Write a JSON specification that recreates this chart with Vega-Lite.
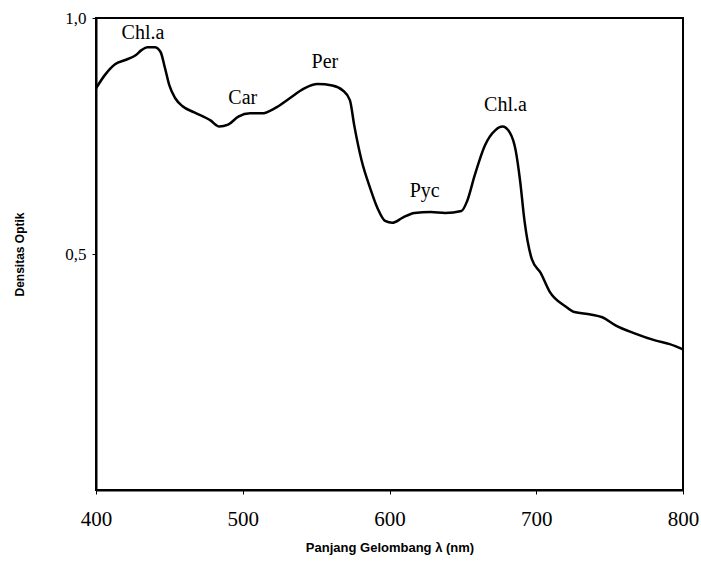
{
  "$schema": "https://vega.github.io/schema/vega-lite/v6.json",
  "width": 587,
  "height": 472,
  "autosize": {"type": "none"},
  "padding": {"left": 96, "top": 18, "right": 18, "bottom": 73},
  "background": "white",
  "config": {
    "view": {"stroke": "black", "strokeWidth": 2},
    "axis": {"grid": false, "domainColor": "black", "domainWidth": 2, "tickColor": "black", "labelColor": "black", "titleColor": "black"}
  },
  "datasets": {
    "curve": [
      {"wl": 400, "od": 0.851}, {"wl": 406, "od": 0.879}, {"wl": 413, "od": 0.902}, {"wl": 420, "od": 0.911},
      {"wl": 427, "od": 0.921}, {"wl": 431, "od": 0.932}, {"wl": 435, "od": 0.938}, {"wl": 440, "od": 0.938},
      {"wl": 444, "od": 0.928}, {"wl": 447, "od": 0.894}, {"wl": 450, "od": 0.857}, {"wl": 454, "od": 0.830},
      {"wl": 459, "od": 0.813}, {"wl": 467, "od": 0.800}, {"wl": 478, "od": 0.783}, {"wl": 484, "od": 0.770},
      {"wl": 490, "od": 0.774}, {"wl": 497, "od": 0.791}, {"wl": 505, "od": 0.798}, {"wl": 513, "od": 0.798},
      {"wl": 522, "od": 0.809}, {"wl": 532, "od": 0.830}, {"wl": 542, "od": 0.851}, {"wl": 551, "od": 0.860},
      {"wl": 561, "od": 0.857}, {"wl": 568, "od": 0.847}, {"wl": 573, "od": 0.826}, {"wl": 576, "od": 0.772},
      {"wl": 581, "od": 0.698}, {"wl": 587, "od": 0.638}, {"wl": 592, "od": 0.596}, {"wl": 597, "od": 0.570},
      {"wl": 602, "od": 0.566}, {"wl": 609, "od": 0.577}, {"wl": 617, "od": 0.587}, {"wl": 628, "od": 0.589},
      {"wl": 638, "od": 0.587}, {"wl": 649, "od": 0.591}, {"wl": 653, "od": 0.613}, {"wl": 658, "od": 0.666},
      {"wl": 665, "od": 0.730}, {"wl": 672, "od": 0.762}, {"wl": 677, "od": 0.770}, {"wl": 682, "od": 0.757},
      {"wl": 686, "od": 0.719}, {"wl": 689, "od": 0.655}, {"wl": 692, "od": 0.570}, {"wl": 697, "od": 0.489},
      {"wl": 703, "od": 0.460}, {"wl": 709, "od": 0.421}, {"wl": 720, "od": 0.389}, {"wl": 726, "od": 0.377},
      {"wl": 737, "od": 0.372}, {"wl": 745, "od": 0.366}, {"wl": 754, "od": 0.349}, {"wl": 767, "od": 0.332},
      {"wl": 781, "od": 0.317}, {"wl": 791, "od": 0.309}, {"wl": 800, "od": 0.298}
    ],
    "labels": [
      {"wl": 432, "od": 0.968, "name": "Chl.a"},
      {"wl": 500, "od": 0.830, "name": "Car"},
      {"wl": 556, "od": 0.906, "name": "Per"},
      {"wl": 624, "od": 0.634, "name": "Pyc"},
      {"wl": 679, "od": 0.815, "name": "Chl.a"}
    ]
  },
  "layer": [
    {
      "data": {"name": "curve"},
      "mark": {"type": "line", "color": "black", "strokeWidth": 2.5, "interpolate": "monotone"},
      "encoding": {
        "x": {
          "field": "wl", "type": "quantitative",
          "scale": {"domain": [400, 800], "nice": false},
          "axis": {
            "values": [400, 500, 600, 700, 800],
            "title": "Panjang Gelombang λ (nm)",
            "titleFont": "Liberation Sans", "titleFontSize": 13, "titleFontWeight": "bold", "titlePadding": 12,
            "labelFont": "Liberation Serif", "labelFontSize": 21, "labelPadding": 14,
            "tickSize": 4, "labelFlush": false
          }
        },
        "y": {
          "field": "od", "type": "quantitative",
          "scale": {"domain": [0, 1], "nice": false},
          "axis": {
            "values": [0.5, 1.0],
            "labelExpr": "replace(format(datum.value, '.1f'), '.', ',')",
            "title": "Densitas Optik",
            "titleFont": "Liberation Sans", "titleFontSize": 12, "titleFontWeight": "bold", "titlePadding": 38,
            "labelFont": "Liberation Serif", "labelFontSize": 17, "labelPadding": 6,
            "tickSize": 4
          }
        }
      }
    },
    {
      "data": {"name": "labels"},
      "mark": {"type": "text", "font": "Liberation Serif", "fontSize": 20, "color": "black", "align": "center", "baseline": "middle"},
      "encoding": {
        "x": {"field": "wl", "type": "quantitative"},
        "y": {"field": "od", "type": "quantitative"},
        "text": {"field": "name", "type": "nominal"}
      }
    }
  ]
}
